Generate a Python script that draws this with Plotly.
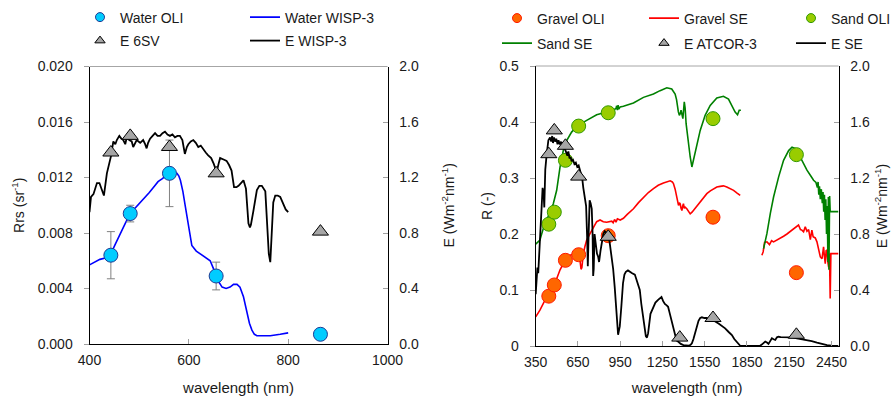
import plotly.graph_objects as go

# ---------------- Left panel data ----------------
oli_water_wl = [443, 482, 561, 655, 865]
water_oli = [0.0064, 0.0094, 0.0123, 0.0049, 0.0007]
water_oli_err = [0.0017, 0.0006, 0.0024, 0.0010, 0.0002]
e_6sv = [1.38, 1.50, 1.42, 1.23, 0.81]

wisp_wl = [400, 410, 421, 432, 443, 452, 462, 472, 482, 495, 509, 520, 529, 538, 546, 553, 561, 570,
           576, 580, 583, 588, 593, 600, 606, 615, 623, 635, 643, 650, 655, 660, 667, 675, 683, 690,
           697, 703, 710, 717, 722, 727, 732, 737, 750, 764, 784, 800]
water_wisp = [0.0057, 0.0059, 0.0061, 0.0062, 0.0065, 0.0072, 0.0080, 0.0087, 0.0094, 0.0099, 0.0104,
              0.0109, 0.0113, 0.0117, 0.0119, 0.0121, 0.0122, 0.0123, 0.0123, 0.0121, 0.0118, 0.0110,
              0.0099, 0.0082, 0.0071, 0.0067, 0.0065, 0.0062, 0.0060, 0.0054, 0.0049, 0.0045, 0.0041,
              0.0040, 0.0041, 0.0043, 0.0043, 0.0041, 0.0034, 0.0023, 0.0015, 0.0010, 0.0007, 0.0006,
              0.0006, 0.0006, 0.0007, 0.0008]

wisp_e_wl = [400, 403, 408, 412, 415, 420, 425, 429, 435, 443, 448, 452, 455, 460, 464, 468, 472, 475,
             480, 485, 488, 492, 495, 502, 508, 512, 515, 518, 522, 527, 532, 537, 542, 547, 552, 557,
             562, 567, 572, 577, 582, 587, 592, 596, 599, 604, 609, 614, 619, 624, 629, 634, 639, 645,
             650, 653, 656, 660, 663, 670, 676, 681, 686, 691, 696, 700, 705, 710, 715, 720, 723, 725,
             730, 737, 742, 747, 754, 758, 761, 764, 767, 770, 774, 779, 784, 790, 795, 800]
e_wisp = [0.95, 1.06, 1.08, 1.12, 1.16, 1.16, 1.10, 1.07, 1.23, 1.35, 1.46, 1.44, 1.47, 1.50, 1.48,
          1.47, 1.44, 1.49, 1.47, 1.46, 1.42, 1.45, 1.47, 1.45, 1.47, 1.44, 1.41, 1.45, 1.48, 1.50,
          1.52, 1.50, 1.50, 1.52, 1.53, 1.51, 1.50, 1.51, 1.49, 1.50, 1.50, 1.47, 1.37, 1.42, 1.44,
          1.46, 1.47, 1.45, 1.42, 1.43, 1.40, 1.38, 1.36, 1.34, 1.30, 1.26, 1.24, 1.30, 1.34, 1.33,
          1.32, 1.29, 1.25, 1.13, 1.13, 1.14, 1.16, 1.18, 1.12, 0.87, 0.84, 0.86, 0.96, 1.11, 1.14,
          1.14, 1.10, 0.84, 0.65, 0.59, 0.84, 1.02, 1.07, 1.07, 1.06, 1.01, 0.97, 0.95]

# ---------------- Right panel data ----------------
oli_wl = [443, 482, 561, 655, 865, 1609, 2201]
gravel_oli = [0.089, 0.109, 0.153, 0.163, 0.197, 0.230, 0.131]
sand_oli = [0.2175, 0.239, 0.3316, 0.3927, 0.4165, 0.406, 0.3417]
atcor_wl = [443, 482, 561, 655, 865, 1373, 1609, 2201]
e_atcor = [1.37, 1.54, 1.43, 1.21, 0.78, 0.06, 0.20, 0.08]

sand_wl = [350, 380, 404, 428, 452, 475, 499, 523, 546, 570, 605, 646, 712, 783, 854, 900, 920, 925,
           930, 935, 940, 950, 973, 1044, 1115, 1186, 1233, 1281, 1316, 1340, 1350, 1358, 1363, 1370,
           1376, 1382, 1388, 1395, 1405, 1411, 1418, 1430, 1447, 1459, 1470, 1494, 1518, 1553, 1589,
           1636, 1683, 1719, 1743, 1766, 1783, 1795, 1807,
           None,
           1968, 1992, 2016, 2039, 2075, 2110, 2146, 2170, 2198, 2228, 2250, 2276, 2300, 2323, 2340,
           2350, 2355, 2360, 2365, 2371, 2378, 2385, 2390, 2395, 2400, 2405, 2410, 2415, 2420, 2425,
           2428, 2432, 2437, 2441, 2500]
sand_se = [0.182, 0.189, 0.210, 0.225, 0.239, 0.254, 0.278, 0.320, 0.349, 0.367, 0.382, 0.393, 0.403,
           0.413, 0.418, 0.421, 0.424, 0.429, 0.421, 0.430, 0.423, 0.427, 0.428, 0.434, 0.444, 0.450,
           0.456, 0.461, 0.459, 0.450, 0.440, 0.420, 0.418, 0.412, 0.415, 0.421, 0.412, 0.406, 0.436,
           0.425, 0.397, 0.367, 0.3375, 0.3197, 0.331, 0.358, 0.385, 0.412, 0.4296, 0.443, 0.446,
           0.441, 0.4296, 0.4177, 0.413, 0.421, 0.421,
           None,
           0.174, 0.201, 0.237, 0.266, 0.302, 0.3316, 0.349, 0.355, 0.352, 0.337, 0.327, 0.314, 0.305,
           0.296, 0.292, 0.283, 0.293, 0.270, 0.285, 0.262, 0.280, 0.255, 0.275, 0.240, 0.270, 0.225,
           0.262, 0.200, 0.250, 0.150, 0.266, 0.136, 0.268, 0.240, 0.240]

gravel_wl = [350, 380, 416, 452, 487, 523, 558, 594, 629, 655, 665, 672, 678, 688, 700, 712, 730, 748,
             765, 783, 807, 830, 854, 890, 900, 910, 920, 930, 950, 973, 1000, 1044, 1080, 1115, 1150,
             1186, 1220, 1257, 1290, 1305, 1320, 1328, 1340, 1347, 1356, 1364, 1370, 1376, 1382, 1388,
             1394, 1399, 1405, 1411, 1423, 1435, 1447, 1460, 1470, 1494, 1518, 1540, 1565, 1590, 1613,
             1636, 1660, 1683, 1707, 1730, 1755, 1780, 1802,
             None,
             1956, 1965, 1975, 1992, 2010, 2025, 2039, 2063, 2087, 2110, 2134, 2160, 2181, 2200, 2216,
             2230, 2240, 2252, 2264, 2276, 2288, 2300, 2311, 2320, 2335, 2347, 2359, 2371, 2383, 2388,
             2394, 2400, 2406, 2412, 2418, 2424, 2430, 2436, 2441, 2446, 2500]
gravel_se = [0.052, 0.064, 0.082, 0.094, 0.112, 0.136, 0.153, 0.162, 0.165, 0.162, 0.152, 0.137, 0.140,
             0.165, 0.178, 0.189, 0.198, 0.207, 0.215, 0.222, 0.225, 0.222, 0.221, 0.223, 0.220, 0.226,
             0.221, 0.227, 0.225, 0.228, 0.235, 0.245, 0.256, 0.266, 0.274, 0.281, 0.287, 0.291, 0.294,
             0.295, 0.293, 0.290, 0.280, 0.272, 0.258, 0.251, 0.256, 0.254, 0.246, 0.242, 0.250, 0.254,
             0.246, 0.248, 0.245, 0.240, 0.236, 0.239, 0.242, 0.250, 0.257, 0.265, 0.272, 0.277, 0.281,
             0.284, 0.285, 0.286, 0.284, 0.281, 0.278, 0.273, 0.269,
             None,
             0.162, 0.168, 0.185, 0.186, 0.181, 0.188, 0.186, 0.189, 0.192, 0.196, 0.200, 0.205, 0.210,
             0.212, 0.216, 0.208, 0.207, 0.204, 0.213, 0.205, 0.208, 0.190, 0.207, 0.195, 0.193, 0.186,
             0.171, 0.159, 0.156, 0.170, 0.177, 0.160, 0.147, 0.170, 0.171, 0.150, 0.141, 0.165, 0.085,
             0.165, 0.165]

ese_wl = [350, 356, 362, 368, 374, 380, 386, 392, 399, 406, 411, 418, 428, 440, 452, 460, 467, 473, 480,
          488, 496, 505, 512, 521, 530, 537, 544, 552, 560, 567, 575, 582, 590, 598, 605, 615, 625, 635,
          645, 655, 663, 672, 680, 688, 695, 700, 708, 715, 720, 726, 733, 740, 748, 754, 758, 762, 768,
          775, 785, 793, 800, 810, 820, 830, 840, 852, 864, 875, 887, 900, 911, 923, 935, 941, 947, 958,
          970, 980, 990, 1005, 1018, 1035, 1054, 1070, 1089, 1100, 1113, 1125, 1132, 1140, 1148, 1165,
          1184, 1200, 1219, 1230, 1243, 1255, 1267, 1280, 1290, 1300, 1314, 1326, 1338, 1350, 1363, 1380,
          1399, 1420, 1435, 1450, 1459, 1470, 1482, 1494, 1506, 1518, 1530, 1548, 1565, 1583, 1601, 1625,
          1648, 1672, 1695, 1720, 1743, 1760, 1778, 1790, 1802, 1830, 1850, 1875, 1897, 1920, 1944, 1955,
          1968, 1980, 1992, 2003, 2015, 2027, 2039, 2051, 2063, 2074, 2090, 2110, 2130, 2145, 2175, 2205,
          2240, 2276, 2310, 2347, 2380, 2418, 2450, 2489, 2500]
e_se = [0.37, 0.44, 0.56, 0.52, 0.62, 0.71, 0.86, 0.99, 1.13, 1.09, 0.99, 1.26, 1.37, 1.47, 1.49, 1.46,
        1.50, 1.45, 1.49, 1.46, 1.48, 1.44, 1.47, 1.44, 1.46, 1.42, 1.45, 1.41, 1.40, 1.38, 1.36, 1.39,
        1.34, 1.35, 1.32, 1.33, 1.30, 1.31, 1.28, 1.29, 1.26, 1.24, 1.20, 1.13, 1.08, 1.05, 1.00, 0.78,
        0.57, 0.80, 1.04, 1.02, 0.98, 0.80, 0.50, 0.55, 0.80, 0.72, 0.66, 0.64, 0.60, 0.68, 0.74, 0.80,
        0.82, 0.81, 0.80, 0.74, 0.66, 0.55, 0.42, 0.23, 0.08, 0.11, 0.14, 0.28, 0.45, 0.51, 0.53, 0.54,
        0.53, 0.52, 0.51, 0.46, 0.40, 0.30, 0.21, 0.10, 0.07, 0.06, 0.09, 0.23, 0.28, 0.31, 0.33, 0.34,
        0.35, 0.32, 0.30, 0.29, 0.28, 0.24, 0.18, 0.12, 0.07, 0.04, 0.03, 0.015, 0.007, 0.003, 0.002,
        0.008, 0.02, 0.05, 0.09, 0.14, 0.18, 0.20, 0.205, 0.20, 0.20, 0.19, 0.185, 0.175, 0.16, 0.145,
        0.126, 0.10, 0.078, 0.05, 0.03, 0.01, 0.002, 0.0, 0.0, 0.0, 0.0, 0.0, 0.002, 0.01, 0.02, 0.031,
        0.025, 0.015, 0.035, 0.055, 0.048, 0.043, 0.062, 0.066, 0.064, 0.064, 0.066, 0.066, 0.062,
        0.055, 0.049, 0.043, 0.034, 0.024, 0.015, 0.007, 0.003, 0.0, 0.0]

# ---------------- Styles ----------------
FONT = "Arial, Liberation Sans, sans-serif"
TXT = "#1a1a1a"
TICKC = "#a0a0a0"
water_marker = dict(symbol="circle", color="#00CCFF", line=dict(color="#1F3A93", width=1))
tri_marker = dict(symbol="triangle-up", color="#A6A6A6", line=dict(color="#000000", width=1))
gravel_marker = dict(symbol="circle", color="#FF6600", line=dict(color="#FF1A00", width=1))
sand_marker = dict(symbol="circle", color="#99CC00", line=dict(color="#339900", width=1))

fig = go.Figure()

# ---- left panel
fig.add_trace(go.Scatter(x=wisp_wl, y=water_wisp, mode="lines", line=dict(color="#0000FF", width=1.6),
                         xaxis="x", yaxis="y", showlegend=False))
fig.add_trace(go.Scatter(x=oli_water_wl, y=water_oli, mode="markers",
                         marker=dict(size=14, **water_marker),
                         error_y=dict(type="data", array=water_oli_err, color="#808080", thickness=1, width=4),
                         xaxis="x", yaxis="y", showlegend=False))
fig.add_trace(go.Scatter(x=wisp_e_wl, y=e_wisp, mode="lines", line=dict(color="#000000", width=1.8),
                         xaxis="x", yaxis="y2", showlegend=False))
fig.add_trace(go.Scatter(x=oli_water_wl, y=e_6sv, mode="markers", marker=dict(size=14, **tri_marker),
                         xaxis="x", yaxis="y2", showlegend=False))

# ---- right panel
fig.add_trace(go.Scatter(x=gravel_wl, y=gravel_se, mode="lines", line=dict(color="#FF0000", width=1.6),
                         xaxis="x2", yaxis="y3", showlegend=False, connectgaps=False))
fig.add_trace(go.Scatter(x=sand_wl, y=sand_se, mode="lines", line=dict(color="#008000", width=1.6),
                         xaxis="x2", yaxis="y3", showlegend=False, connectgaps=False))
fig.add_trace(go.Scatter(x=oli_wl, y=gravel_oli, mode="markers", marker=dict(size=14, **gravel_marker),
                         xaxis="x2", yaxis="y3", showlegend=False))
fig.add_trace(go.Scatter(x=oli_wl, y=sand_oli, mode="markers", marker=dict(size=14, **sand_marker),
                         xaxis="x2", yaxis="y3", showlegend=False))
fig.add_trace(go.Scatter(x=ese_wl, y=e_se, mode="lines", line=dict(color="#000000", width=1.8),
                         xaxis="x2", yaxis="y4", showlegend=False))
fig.add_trace(go.Scatter(x=atcor_wl, y=e_atcor, mode="markers", marker=dict(size=14, **tri_marker),
                         xaxis="x2", yaxis="y4", showlegend=False))

# ---- legend entries (small symbols, like the original)
def leg(name, legend, rank, marker=None, line=None, xa="x", ya="y"):
    if marker is not None:
        fig.add_trace(go.Scatter(x=[None], y=[None], mode="markers", name=name, legend=legend,
                                 legendrank=rank, marker=dict(size=9, **marker), xaxis=xa, yaxis=ya))
    else:
        fig.add_trace(go.Scatter(x=[None], y=[None], mode="lines", name=name, legend=legend,
                                 legendrank=rank, line=line, xaxis=xa, yaxis=ya))

leg("Water OLI", "legend", 1, marker=water_marker)
leg("Water WISP-3", "legend", 2, line=dict(color="#0000FF", width=1.8))
leg("E 6SV", "legend2", 1, marker=tri_marker)
leg("E WISP-3", "legend2", 2, line=dict(color="#000000", width=1.8))
leg("Gravel OLI", "legend3", 1, marker=gravel_marker, xa="x2", ya="y3")
leg("Gravel SE", "legend3", 2, line=dict(color="#FF0000", width=1.8), xa="x2", ya="y3")
leg("Sand OLI", "legend3", 3, marker=sand_marker, xa="x2", ya="y3")
leg("Sand SE", "legend4", 1, line=dict(color="#008000", width=1.8), xa="x2", ya="y3")
leg("E ATCOR-3", "legend4", 2, marker=tri_marker, xa="x2", ya="y3")
leg("E SE", "legend4", 3, line=dict(color="#000000", width=1.8), xa="x2", ya="y3")

W, H = 893, 396
Lx = [89.5 / W, 387.5 / W]
Rx = [535.7 / W, 838.5 / W]
Ly = [(H - 344) / H, (H - 66.5) / H]
Ry = [(H - 346) / H, (H - 66) / H]

tickfont = dict(family=FONT, size=14, color=TXT)
titlefont = dict(family=FONT, size=14, color=TXT)

def xax(domain, rng, dtick, tick0, anchor):
    return dict(domain=domain, range=rng, dtick=dtick, tick0=tick0, anchor=anchor, automargin=False,
                showline=True, linecolor="#000000", linewidth=1, showgrid=False, zeroline=False,
                ticks="inside", ticklen=5, tickcolor=TICKC, tickfont=tickfont, ticklabelstandoff=3,
                title=dict(text="wavelength (nm)", font=dict(family=FONT, size=15, color=TXT), standoff=15))

def yax(domain, rng, dtick, fmt, anchor, title, side="left", overlaying=None, standoff=10):
    d = dict(range=rng, dtick=dtick, tick0=0, tickformat=fmt, anchor=anchor, side=side, automargin=False,
             showline=True, linecolor="#000000", linewidth=1, showgrid=False, zeroline=False,
             ticks="outside" if side == "left" else "inside", ticklen=5, tickcolor=TICKC,
             tickfont=tickfont, ticklabelstandoff=8,
             title=dict(text=title, font=titlefont, standoff=standoff))
    if overlaying:
        d["overlaying"] = overlaying
    else:
        d["domain"] = domain
    return d

legbase = dict(orientation="h", xanchor="left", yanchor="middle", bgcolor="rgba(0,0,0,0)",
               font=dict(family=FONT, size=14, color=TXT), itemclick=False, itemdoubleclick=False,
               entrywidthmode="pixels", tracegroupgap=0)

fig.update_layout(
    width=W, height=H, margin=dict(l=0, r=0, t=0, b=0, autoexpand=False),
    paper_bgcolor="white", plot_bgcolor="white",
    font=dict(family=FONT, color=TXT),
    xaxis=xax(Lx, [400, 1000], 200, 400, "y"),
    yaxis=yax(Ly, [0, 0.020], 0.004, ".3f", "x", "Rrs (sr<sup>-1</sup>)", standoff=9),
    yaxis2=yax(Ly, [0, 2.0], 0.4, ".1f", "x", "E (Wm<sup>-2</sup>nm<sup>-1</sup>)", side="right",
               overlaying="y", standoff=26),
    xaxis2=xax(Rx, [350, 2500], 300, 350, "y3"),
    yaxis3=yax(Ry, [0, 0.5], 0.1, "", "x2", "R (-)", standoff=3),
    yaxis4=yax(Ry, [0, 2.0], 0.4, ".1f", "x2", "E (Wm<sup>-2</sup>nm<sup>-1</sup>)", side="right",
               overlaying="y3", standoff=8),
    legend=dict(legbase, x=80 / W, y=1 - 17.5 / H, entrywidth=120),
    legend2=dict(legbase, x=80 / W, y=1 - 41 / H, entrywidth=120),
    legend3=dict(legbase, x=497 / W, y=1 - 18.5 / H, entrywidth=102),
    legend4=dict(legbase, x=497 / W, y=1 - 43.5 / H, entrywidth=102),
    shapes=[
        dict(type="line", xref="x domain", yref="y domain", x0=0, x1=1, y0=1, y1=1,
             line=dict(color="#A6A6A6", width=1)),
        dict(type="line", xref="x2 domain", yref="y3 domain", x0=0, x1=1, y0=1, y1=1,
             line=dict(color="#A6A6A6", width=1)),
    ],
)

fig.write_html("out.html", config={"displayModeBar": False},
               post_script="document.body.style.margin='0';document.body.style.overflow='hidden';")
